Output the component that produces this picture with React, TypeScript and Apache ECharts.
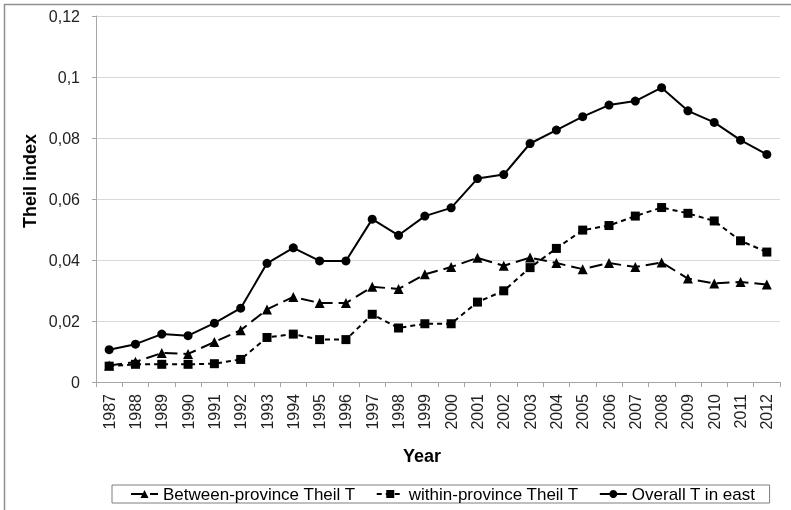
import React, { useEffect, useRef } from "react";
import * as echarts from "echarts";

const years = ["1987","1988","1989","1990","1991","1992","1993","1994","1995","1996","1997","1998","1999","2000","2001","2002","2003","2004","2005","2006","2007","2008","2009","2010","2011","2012"];
const betweenProvince = [0.0054,0.0066,0.0095,0.0092,0.0131,0.017,0.0238,0.0279,0.0259,0.0259,0.0312,0.0305,0.0353,0.0377,0.0407,0.0381,0.0408,0.039,0.037,0.039,0.0377,0.0392,0.0339,0.0323,0.0328,0.032];
const withinProvince = [0.0052,0.0058,0.0058,0.0058,0.006,0.0074,0.0146,0.0157,0.0139,0.0139,0.0222,0.0177,0.0191,0.0191,0.0262,0.0299,0.0375,0.0438,0.0498,0.0513,0.0544,0.0572,0.0553,0.0528,0.0463,0.0426];
const overallEast = [0.0106,0.0124,0.0157,0.0152,0.0193,0.0242,0.0389,0.044,0.0397,0.0397,0.0534,0.0481,0.0544,0.0571,0.0667,0.068,0.0782,0.0826,0.087,0.0908,0.0921,0.0965,0.0889,0.0851,0.0793,0.0746];
const seriesNames = ["Between-province Theil T", "within-province Theil T", "Overall T in east"];

const FONT = "'Liberation Sans', Arial, sans-serif";

export default function App() {
  const ref = useRef<HTMLDivElement>(null);
  useEffect(() => {
    if (!ref.current) return;
    const chart = echarts.init(ref.current, null, { renderer: "svg" });
    chart.setOption({
      animation: false,
      textStyle: { fontFamily: FONT },
      grid: { left: 96, right: 11, top: 16, bottom: 128, containLabel: false },
      graphic: [
        {
          type: "rect",
          shape: { x: 4.5, y: 4.5, width: 820, height: 540 },
          style: { fill: "none", stroke: "#8f8f8f", lineWidth: 1.5 },
          silent: true,
        },
        {
          type: "text",
          x: 30,
          y: 181,
          rotation: Math.PI / 2,
          style: { text: "Theil index", font: `bold 18px ${FONT}`, fill: "#000", align: "center", verticalAlign: "middle" },
        },
        {
          type: "text",
          x: 422,
          y: 456,
          style: { text: "Year", font: `bold 18px ${FONT}`, fill: "#000", align: "center", verticalAlign: "middle" },
        },
      ],
      legend: {
        left: 112,
        top: 485,
        padding: [0, 14, 0, 18],
        itemGap: 20,
        itemWidth: 27,
        itemHeight: 10,
        borderColor: "#7f7f7f",
        borderWidth: 1,
        data: seriesNames,
        textStyle: { fontSize: 17, color: "#000", fontFamily: FONT, lineHeight: 18 },
      },
      xAxis: {
        type: "category",
        data: years,
        boundaryGap: true,
        axisLine: { lineStyle: { color: "#a6a6a6", width: 1 } },
        axisTick: { show: true, length: 5, lineStyle: { color: "#a6a6a6" } },
        axisLabel: { rotate: 90, fontSize: 16, color: "#222", margin: 12, interval: 0, fontFamily: FONT },
        splitLine: { show: false },
      },
      yAxis: {
        type: "value",
        min: 0,
        max: 0.12,
        interval: 0.02,
        axisLine: { show: true, lineStyle: { color: "#a6a6a6", width: 1 } },
        axisTick: { show: true, length: 4, lineStyle: { color: "#a6a6a6" } },
        axisLabel: {
          fontSize: 16,
          color: "#222",
          margin: 16,
          fontFamily: FONT,
          formatter: (v: number) => (v === 0 ? "0" : String(+v.toFixed(2)).replace(".", ",")),
        },
        splitLine: { show: true, lineStyle: { color: "#d9d9d9", width: 1 } },
      },
      series: [
        {
          name: seriesNames[0],
          type: "line",
          data: betweenProvince,
          symbol: "triangle",
          symbolSize: 10,
          lineStyle: { color: "#000", width: 2, type: [13, 6] },
          itemStyle: { color: "#000" },
          z: 3,
        },
        {
          name: seriesNames[1],
          type: "line",
          data: withinProvince,
          symbol: "rect",
          symbolSize: 9,
          lineStyle: { color: "#000", width: 2, type: [5, 4] },
          itemStyle: { color: "#000" },
          z: 2,
        },
        {
          name: seriesNames[2],
          type: "line",
          data: overallEast,
          symbol: "circle",
          symbolSize: 9,
          lineStyle: { color: "#000", width: 2, type: "solid" },
          itemStyle: { color: "#000" },
          z: 4,
        },
      ],
    });
    return () => chart.dispose();
  }, []);
  return <div ref={ref} style={{ position: "fixed", left: 0, top: 0, width: 791, height: 510 }} />;
}
